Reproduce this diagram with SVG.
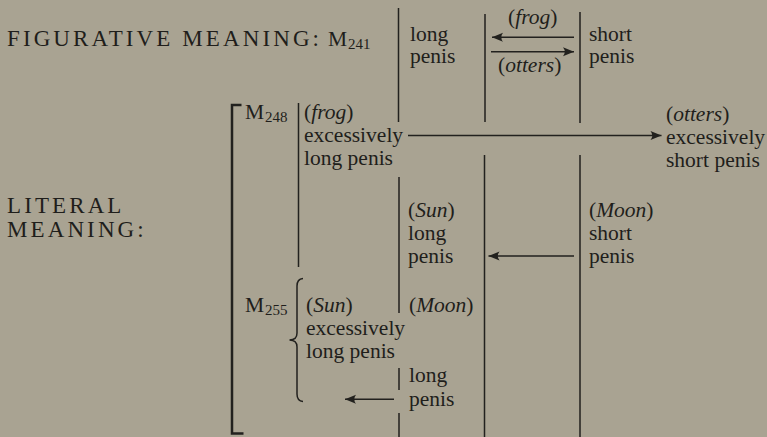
<svg xmlns="http://www.w3.org/2000/svg" width="767" height="437" viewBox="0 0 767 437">
<style>
.t{font-family:"Liberation Serif",serif;font-size:21.5px;fill:#1f1e1b}
.cap{font-family:"Liberation Serif",serif;font-size:23px;letter-spacing:3.1px;fill:#1f1e1b}
.sub{font-family:"Liberation Serif",serif;font-size:15px;fill:#1f1e1b}
.i{font-style:italic}
.ln{stroke:#22211e;stroke-width:1.5;fill:none}
.ar{stroke:#22211e;stroke-width:1.6;fill:none}
</style>
<defs>
<marker id="ah" viewBox="-12 -6 14 12" refX="0" refY="0" markerWidth="14" markerHeight="12" markerUnits="userSpaceOnUse" orient="auto">
<path d="M0,0 L-11,-4.5 Q-7.5,0 -11,4.5 Z" fill="#22211e"/>
</marker>
</defs>
<rect width="767" height="437" fill="#a9a392"/>
<g id="labels">
<text class="cap" x="7" y="46">FIGURATIVE MEANING:</text>
<text class="t" x="328" y="46">M</text><text class="sub" x="348" y="49">241</text>
<text class="cap" x="7" y="213">LITERAL</text>
<text class="cap" x="7" y="237">MEANING:</text>
</g>
<g id="fig-long">
<text class="t" x="410" y="40.5">long</text>
<text class="t" x="410" y="63.3">penis</text>
</g>
<g id="fig-short">
<text class="t" x="589" y="40.5">short</text>
<text class="t" x="589" y="63.3">penis</text>
</g>
<g id="fig-arrow-labels">
<text class="t" x="508" y="24">(<tspan class="i">frog</tspan>)</text>
<text class="t" x="498" y="71.7">(<tspan class="i">otters</tspan>)</text>
</g>
<g id="m248">
<text class="t" x="245" y="118.5">M</text><text class="sub" x="265" y="121.5">248</text>
</g>
<g id="frog-long">
<text class="t" x="304" y="118.5">(<tspan class="i">frog</tspan>)</text>
<text class="t" x="304" y="141.7">excessively</text>
<text class="t" x="304" y="165">long penis</text>
</g>
<g id="otters-short">
<text class="t" x="666" y="120.5">(<tspan class="i">otters</tspan>)</text>
<text class="t" x="666" y="143.5">excessively</text>
<text class="t" x="666" y="167">short penis</text>
</g>
<g id="sun-long">
<text class="t" x="408" y="216.7">(<tspan class="i">Sun</tspan>)</text>
<text class="t" x="408" y="240">long</text>
<text class="t" x="408" y="263.3">penis</text>
</g>
<g id="moon-short">
<text class="t" x="589" y="216.7">(<tspan class="i">Moon</tspan>)</text>
<text class="t" x="589" y="240">short</text>
<text class="t" x="589" y="263.3">penis</text>
</g>
<g id="m255">
<text class="t" x="245" y="311.7">M</text><text class="sub" x="265" y="314.7">255</text>
</g>
<g id="sun-excess">
<text class="t" x="306" y="311.7">(<tspan class="i">Sun</tspan>)</text>
<text class="t" x="306" y="335">excessively</text>
<text class="t" x="306" y="358.3">long penis</text>
</g>
<g id="moon-long">
<text class="t" x="409" y="311.7">(<tspan class="i">Moon</tspan>)</text>
<text class="t" x="409" y="382">long</text>
<text class="t" x="409" y="405.5">penis</text>
</g>
<g id="connectors">
<path class="ln" d="M398.5,8 V122 M485,14 V122 M580,12 V123 M298.5,103 V267 M399,177 V313 M399,368 V390 M399,413 V437 M484.5,155 V437 M580,155 V437"/>
<path d="M241.5,105 H232 V433.5 H243.5" stroke="#22211e" stroke-width="2.5" fill="none"/>
<path class="ln" d="M303,278.5 Q297,279 297,286 V333 Q297,340 289.5,340 Q297,340 297,347 V394 Q297,401 303,401.5"/>
<line class="ar" x1="574" y1="37.3" x2="492" y2="37.3" marker-end="url(#ah)" stroke-width="2"/>
<line class="ar" x1="491" y1="51.7" x2="574" y2="51.7" marker-end="url(#ah)" stroke-width="2"/>
<line class="ar" x1="408" y1="135.5" x2="661.5" y2="135.5" marker-end="url(#ah)" stroke-width="1.3"/>
<line class="ar" x1="574" y1="256" x2="488.5" y2="256" marker-end="url(#ah)" stroke-width="2"/>
<line class="ar" x1="394" y1="399.3" x2="345" y2="399.3" marker-end="url(#ah)" stroke-width="2"/>
</g>
</svg>
